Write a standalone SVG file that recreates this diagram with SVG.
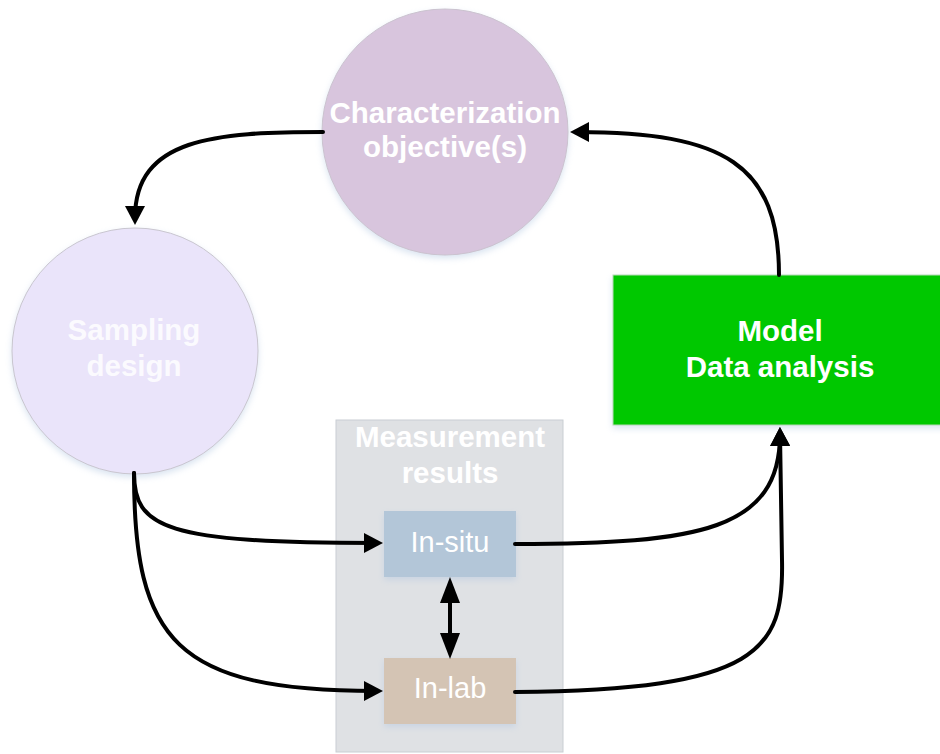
<svg xmlns="http://www.w3.org/2000/svg" width="940" height="754" viewBox="0 0 940 754">
  <style>
    .lbl { font-family: "Liberation Sans", Arial, sans-serif; fill: #ffffff; text-anchor: middle; }
    .bold { font-weight: bold; font-size: 29.5px; }
    .reg { font-size: 29px; }
    .edge { fill: none; stroke: #000000; stroke-width: 4; stroke-linecap: round; }
  </style>
  <defs>
    <filter id="soft" x="-10%" y="-10%" width="120%" height="125%">
      <feDropShadow dx="0" dy="3" stdDeviation="3" flood-color="#AFC4E0" flood-opacity="0.45"/>
    </filter>
    <marker id="head" markerUnits="userSpaceOnUse" markerWidth="19" markerHeight="20" viewBox="0 0 19 20" refX="12" refY="10" orient="auto">
      <path d="M0,0 L19,10 L0,20 z" fill="#000000"/>
    </marker>
    <marker id="head2" markerUnits="userSpaceOnUse" markerWidth="26" markerHeight="20" viewBox="0 0 26 20" refX="18" refY="10" orient="auto-start-reverse">
      <path d="M0,0 L26,10 L0,20 z" fill="#000000"/>
    </marker>
  </defs>

  <!-- Characterization objective(s) -->
  <g id="objective">
    <circle cx="445" cy="132" r="123" fill="#D8C5DD" stroke="#CBC3CF" stroke-width="1" filter="url(#soft)"/>
    <text class="lbl bold" x="445" y="123">Characterization</text>
    <text class="lbl bold" x="445" y="157">objective(s)</text>
  </g>

  <!-- Sampling design -->
  <g id="sampling">
    <circle cx="135" cy="351" r="123" fill="#EAE4FA" stroke="#C9C6CF" stroke-width="1" filter="url(#soft)"/>
    <text class="lbl bold" x="134" y="340" fill-opacity="0.85">Sampling</text>
    <text class="lbl bold" x="134" y="376" fill-opacity="0.85">design</text>
  </g>

  <!-- Measurement results container -->
  <g id="measurement">
    <rect x="336" y="420" width="227" height="332" fill="#DFE1E4" stroke="#C9CED3" stroke-width="1"/>
    <text class="lbl bold" x="450" y="447">Measurement</text>
    <text class="lbl bold" x="450" y="483">results</text>
  </g>

  <g id="insitu">
    <rect x="384" y="511" width="132" height="66" fill="#B3C6D8" filter="url(#soft)"/>
    <text class="lbl reg" x="450" y="552">In-situ</text>
  </g>

  <g id="inlab">
    <rect x="384" y="658" width="132" height="66" fill="#D4C4B4" filter="url(#soft)"/>
    <text class="lbl reg" x="450" y="698">In-lab</text>
  </g>

  <!-- Model / Data analysis -->
  <g id="model">
    <rect x="613" y="275" width="334" height="150" fill="#00C800" stroke="#B5D9B5" stroke-width="1" filter="url(#soft)"/>
    <text class="lbl bold" x="780" y="341">Model</text>
    <text class="lbl bold" x="780" y="377">Data analysis</text>
  </g>

  <!-- Connectors -->
  <g id="connectors">
    <path class="edge" d="M323,132 C215,132 135,138 135,218" marker-end="url(#head)"/>
    <path class="edge" d="M779,275 C779,165 725,132 577,132" marker-end="url(#head)"/>
    <path class="edge" d="M134,473 C134,528 165,543 376,543" marker-end="url(#head)"/>
    <path class="edge" d="M134,473 C134,640 175,691 376,691" marker-end="url(#head)"/>
    <path class="edge" d="M515,544 C700,544 780,530 780,434" marker-end="url(#head)"/>
    <path class="edge" d="M515,692 C760,690 784,650 782,560 L780,434" marker-end="url(#head)"/>
    <path class="edge" d="M450,585 L450,651" stroke-linecap="butt" marker-start="url(#head2)" marker-end="url(#head2)"/>
  </g>
</svg>
